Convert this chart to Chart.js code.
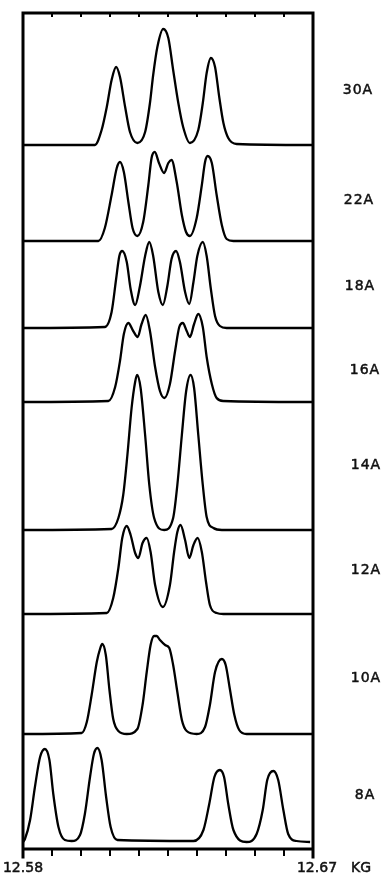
<!DOCTYPE html>
<html>
<head>
<meta charset="utf-8">
<script src="https://cdn.jsdelivr.net/npm/chart.js@4.4.1/dist/chart.umd.min.js"></script>
<style>
  html, body { margin: 0; padding: 0; background: #fff; }
  canvas { display: block; }
</style>
</head>
<body>
<canvas id="chart" width="385" height="877"></canvas>
<script>
// field in KG, signal height above each trace's own baseline (arbitrary units)
const runLabels = ['30A', '22A', '18A', '16A', '14A', '12A', '10A', '8A'];
const baselines = [704, 608, 521, 447, 319, 235, 115, 7];
const fieldTicks = [12.580, 12.589, 12.598, 12.607, 12.616, 12.625, 12.634, 12.643, 12.652, 12.661, 12.670];

const t30A = [[12.58,0],[12.6023,0],[12.6044,15],[12.6060,38],[12.6075,65],[12.6089,78],[12.6101,68],[12.6117,38],[12.6132,13],[12.6155,2],[12.6179,13],[12.6194,42],[12.6204,70],[12.6217,98],[12.6235,116],[12.6251,107],[12.6266,75],[12.6282,42],[12.6297,18],[12.6318,2],[12.6344,15],[12.6358,42],[12.6370,72],[12.6383,87],[12.6396,78],[12.6409,48],[12.6422,22],[12.6437,7],[12.6463,1],[12.67,0]];
const t22A = [[12.58,0],[12.6034,0],[12.6054,13],[12.6075,46],[12.6091,73],[12.6101,79],[12.6113,69],[12.6127,39],[12.6140,13],[12.6155,5],[12.6173,19],[12.6189,56],[12.6199,83],[12.6209,89],[12.6222,78],[12.6238,68],[12.6251,78],[12.6261,81],[12.6277,59],[12.6293,26],[12.6306,9],[12.6318,5],[12.6339,23],[12.6355,56],[12.6365,79],[12.6373,85],[12.6386,78],[12.6401,46],[12.6417,16],[12.6432,2],[12.6453,0],[12.67,0]];
const t18A = [[12.58,0],[12.6054,1],[12.6075,16],[12.6089,49],[12.6099,72],[12.6108,77],[12.6122,66],[12.6134,39],[12.6148,23],[12.6163,42],[12.6179,72],[12.6192,86],[12.6204,72],[12.6220,36],[12.6234,23],[12.6248,42],[12.6261,69],[12.6275,77],[12.6287,66],[12.6303,36],[12.6316,24],[12.6329,46],[12.6341,72],[12.6358,86],[12.6370,72],[12.6383,39],[12.6396,12],[12.6411,2],[12.6432,0],[12.67,0]];
const t16A = [[12.58,0],[12.6065,1],[12.6086,15],[12.6101,41],[12.6113,68],[12.6127,79],[12.6142,71],[12.6156,65],[12.6168,78],[12.6181,87],[12.6194,71],[12.6210,35],[12.6225,11],[12.6239,4],[12.6256,18],[12.6272,51],[12.6285,75],[12.6296,79],[12.6308,71],[12.6318,65],[12.6331,78],[12.6344,88],[12.6358,75],[12.6370,45],[12.6386,18],[12.6401,4],[12.6422,1],[12.67,0]];
const t14A = [[12.58,0],[12.6075,1],[12.6096,12],[12.6111,35],[12.6124,75],[12.6137,122],[12.6148,148],[12.6154,155],[12.6165,142],[12.6179,95],[12.6192,45],[12.6207,12],[12.6238,0],[12.6266,12],[12.6279,45],[12.6293,95],[12.6306,138],[12.6320,155],[12.6331,142],[12.6344,95],[12.6358,45],[12.6370,13],[12.6391,2],[12.6417,0],[12.67,0]];
const t12A = [[12.58,0],[12.6060,1],[12.6080,16],[12.6096,46],[12.6108,76],[12.6122,88],[12.6134,79],[12.6148,61],[12.6158,56],[12.6171,71],[12.6184,76],[12.6196,62],[12.6210,29],[12.6234,7],[12.6256,29],[12.6269,62],[12.6279,82],[12.6289,89],[12.6303,74],[12.6316,56],[12.6329,69],[12.6342,76],[12.6355,62],[12.6368,32],[12.6380,9],[12.6401,1],[12.6422,0],[12.67,0]];
const t10A = [[12.58,0],[12.5982,1],[12.5998,12],[12.6013,39],[12.6029,72],[12.6039,85],[12.6046,90],[12.6057,79],[12.6068,45],[12.6080,15],[12.6096,3],[12.6122,0],[12.6155,5],[12.6171,29],[12.6184,62],[12.6196,89],[12.6207,98],[12.6215,98],[12.6225,94],[12.6241,89],[12.6254,86],[12.6266,69],[12.6279,42],[12.6293,14],[12.6308,3],[12.6339,0],[12.6365,7],[12.6380,29],[12.6396,62],[12.6417,75],[12.6429,69],[12.6442,45],[12.6456,19],[12.6471,4],[12.6494,0],[12.67,0]];
const t8A = [[12.58,0],[12.5806,3],[12.5822,22],[12.5837,55],[12.5853,85],[12.5868,93],[12.5882,82],[12.5894,48],[12.5910,15],[12.5930,2],[12.5951,1],[12.5977,7],[12.5992,28],[12.6008,65],[12.6020,88],[12.6031,94],[12.6044,82],[12.6058,45],[12.6072,15],[12.6093,2],[12.6329,1],[12.6360,12],[12.6378,38],[12.6394,65],[12.6411,72],[12.6424,65],[12.6437,38],[12.6453,12],[12.6494,0],[12.6525,8],[12.6544,32],[12.6558,62],[12.6577,71],[12.6592,62],[12.6608,32],[12.6623,8],[12.6649,1],[12.6691,0]];

const traces = [t30A, t22A, t18A, t16A, t14A, t12A, t10A, t8A];

const labelY = [759, 649, 563, 479, 384, 279, 171, 54];
const labelX = [358, 359, 360, 365, 366, 366, 366, 365];

const frame = {
  id: 'frame',
  afterDraw(chart) {
    const { ctx, chartArea: a, scales: { x, y } } = chart;
    ctx.save();
    ctx.strokeStyle = '#000';
    ctx.lineWidth = 3;
    ctx.lineCap = 'square';
    ctx.beginPath();
    ctx.moveTo(a.left, a.bottom + 8);
    ctx.lineTo(a.left, a.top);
    ctx.lineTo(a.right, a.top);
    ctx.lineTo(a.right, a.bottom + 8);
    ctx.moveTo(a.left, a.bottom);
    ctx.lineTo(a.right, a.bottom);
    ctx.stroke();

    ctx.lineWidth = 2;
    ctx.lineCap = 'butt';
    ctx.beginPath();
    fieldTicks.forEach((v) => {
      const px = x.getPixelForValue(v);
      ctx.moveTo(px, a.top);
      ctx.lineTo(px, a.top + 4);
      ctx.moveTo(px, a.bottom);
      ctx.lineTo(px, a.bottom + 7);
    });
    ctx.stroke();

    ctx.fillStyle = '#111';
    ctx.strokeStyle = '#111';
    ctx.lineWidth = 0.5;
    ctx.font = '14px "DejaVu Sans"';
    ctx.textBaseline = 'middle';
    ctx.textAlign = 'center';
    const put = (s, px, py) => { ctx.fillText(s, px, py); ctx.strokeText(s, px, py); };
    put('12.58', x.getPixelForValue(12.58), 868);
    put('12.67', x.getPixelForValue(12.67) + 4, 868);
    put('KG', 361, 868);

    ctx.letterSpacing = '1px';
    runLabels.forEach((lab, i) => {
      put(lab, labelX[i], y.getPixelForValue(labelY[i]));
    });
    ctx.restore();
  }
};

new Chart(document.getElementById('chart'), {
  type: 'line',
  data: {
    datasets: traces.map((tr, i) => ({
      label: runLabels[i],
      data: tr.map(([f, h]) => ({ x: f, y: baselines[i] + h })),
      borderColor: '#000',
      borderWidth: 2.3,
      pointRadius: 0,
      fill: false,
      cubicInterpolationMode: 'monotone',
    })),
  },
  options: {
    responsive: false,
    devicePixelRatio: 1,
    animation: false,
    layout: { padding: { left: 23, right: 72, top: 13, bottom: 28 } },
    plugins: { legend: { display: false }, tooltip: { enabled: false } },
    scales: {
      x: { type: 'linear', min: 12.58, max: 12.67, display: false },
      y: { type: 'linear', min: 0, max: 836, display: false },
    },
  },
  plugins: [frame],
});
</script>
</body>
</html>
